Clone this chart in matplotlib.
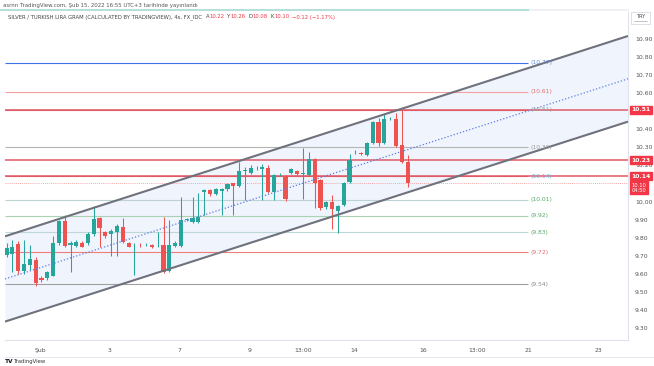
import matplotlib
matplotlib.use("Agg")
import matplotlib.pyplot as plt
from matplotlib.lines import Line2D
from matplotlib.patches import Rectangle
import numpy as np

# ---------------- data ----------------
trading_days = ["01-31", "02-01", "02-02", "02-03", "02-04", "02-07", "02-08", "02-09",
                "02-10", "02-11", "02-14", "02-15", "02-16", "02-17", "02-18", "02-21",
                "02-22", "02-23", "02-24"]
bar_hours = [1, 5, 9, 13, 17, 21]

opens = [9.703, 9.709, 9.764, 9.614, 9.648, 9.676, 9.578, 9.574, 9.589, 9.770,
         9.894, 9.758, 9.755, 9.770, 9.768, 9.818, 9.907, 9.829, 9.818, 9.829,
         9.857, 9.770, 9.757, 9.761, 9.762, 9.759, 9.752, 9.759, 9.614, 9.755,
         9.755, 9.899, 9.888, 9.888, 10.054, 10.063, 10.040, 10.060, 10.068, 10.101,
         10.088, 10.172, 10.160, 10.184, 10.179, 10.188, 10.054, 10.150, 10.138, 10.160,
         10.170, 10.152, 10.147, 10.236, 10.119, 9.968, 9.996, 9.949, 9.981, 10.110,
         10.272, 10.270, 10.258, 10.323, 10.440, 10.327, 10.456, 10.458, 10.314, 10.22]
highs = [9.770, 9.787, 9.780, 9.787, 9.760, 9.690, 9.585, 9.615, 9.810, 9.900,
         9.925, 9.780, 9.785, 9.780, 9.830, 9.975, 9.915, 9.835, 9.845, 9.875,
         9.907, 9.775, 9.770, 9.770, 9.770, 9.765, 9.830, 9.916, 9.897, 9.780,
         10.027, 9.910, 10.027, 10.045, 10.070, 10.070, 10.075, 10.075, 10.105, 10.105,
         10.221, 10.190, 10.200, 10.195, 10.208, 10.200, 10.155, 10.160, 10.145, 10.185,
         10.175, 10.295, 10.276, 10.240, 10.125, 10.005, 10.036, 9.980, 10.110, 10.264,
         10.285, 10.275, 10.330, 10.445, 10.462, 10.484, 10.470, 10.491, 10.508, 10.26]
lows = [9.690, 9.610, 9.600, 9.600, 9.620, 9.530, 9.555, 9.565, 9.585, 9.760,
        9.745, 9.610, 9.745, 9.745, 9.760, 9.810, 9.750, 9.800, 9.700, 9.700,
        9.770, 9.745, 9.590, 9.750, 9.755, 9.740, 9.745, 9.605, 9.610, 9.750,
        9.750, 9.890, 9.880, 9.880, 9.925, 10.030, 10.035, 9.925, 10.060, 9.925,
        10.080, 10.008, 10.150, 10.175, 10.008, 10.045, 10.008, 10.140, 10.005, 10.155,
        10.148, 10.013, 10.140, 9.962, 9.955, 9.960, 9.848, 9.824, 9.975, 10.100,
        10.262, 10.260, 10.250, 10.318, 10.310, 10.320, 10.450, 10.305, 10.215, 10.08]
closes = [9.742, 9.750, 9.614, 9.653, 9.681, 9.548, 9.565, 9.607, 9.770, 9.890,
          9.751, 9.770, 9.774, 9.750, 9.820, 9.901, 9.855, 9.809, 9.836, 9.866,
          9.774, 9.750, 9.761, 9.759, 9.765, 9.746, 9.755, 9.611, 9.759, 9.772,
          9.897, 9.903, 9.907, 9.912, 10.063, 10.039, 10.068, 10.068, 10.097, 10.086,
          10.169, 10.177, 10.188, 10.187, 10.192, 10.054, 10.147, 10.154, 10.013, 10.179,
          10.153, 10.155, 10.236, 10.101, 9.966, 9.999, 9.959, 9.975, 10.104, 10.230,
          10.276, 10.266, 10.323, 10.440, 10.327, 10.458, 10.460, 10.310, 10.221, 10.10]

# horizontal drawn levels (short, with bracket labels)
level_values = [10.77, 10.61, 10.51, 10.30, 10.14, 10.01, 9.92, 9.83, 9.72, 9.54]
level_labels = ["(10.77)", "(10.61)", "(10.51)", "(10.30)", "(10.14)", "(10.01)",
                "(9.92)", "(9.83)", "(9.72)", "(9.54)"]
# full-width red lines with axis price tags
red_levels = [10.51, 10.23, 10.14]
last_price = 10.10
countdown = "04:50"

# parallel channel anchors (days, price)
channel_x = [-1.004, 16.86]
channel_upper = [9.807, 10.918]
channel_lower = [9.334, 10.443]

y_ticks = [9.30, 9.40, 9.50, 9.60, 9.70, 9.80, 9.90, 10.00, 10.20, 10.30,
           10.40, 10.60, 10.70, 10.80, 10.90]

x_tick_labels = ["Şub", "3", "7", "9", "13:00", "14", "16", "13:00", "21", "23"]
x_tick_days = ["02-01", "02-03", "02-07", "02-09", "02-10", "02-14", "02-16", "02-17", "02-21", "02-23"]
x_tick_hours = [0, 0, 0, 0, 13, 0, 0, 13, 0, 0]

header = "asrnn TradingView.com, Şub 15, 2022 16:55 UTC+3 tarihinde yayınlandı"
title = "SILVER / TURKISH LIRA GRAM (CALCULATED BY TRADINGVIEW), 4s, FX_IDC"
ohlc_letters = ["A", "Y", "D", "K"]
ohlc_values = ["10.22", "10.26", "10.08", "10.10"]
change_text = "\u22120.12 (\u22121.17%)"

# ---------------- styles ----------------
UP = "#26a69a"
DOWN = "#ef5350"
TAG = "#f23645"
level_line_colors = ["#3f72e6", "#f2a0a0", "#e05a66", "#b5b5b5", "#e05a66", "#bdd3d3",
                     "#a9d2b4", "#bdd6d6", "#f07c7c", "#a0a0a0"]
level_text_colors = ["#5f86dc", "#e66a6a", "#8fa3a3", "#9a9a9a", "#7fb0e3", "#57a868",
                     "#57a868", "#57a868", "#e66a6a", "#8a8a8a"]

day_index = {d: i - 1 for i, d in enumerate(trading_days)}

# bar x positions: trading day index + hour/24
bar_x = []
for i in range(len(closes)):
    day = trading_days[i // len(bar_hours)]
    bar_x.append(day_index[day] + bar_hours[i % len(bar_hours)] / 24.0)
bar_x = np.array(bar_x)
o = np.array(opens); h = np.array(highs); l = np.array(lows); c = np.array(closes)

W, H = 654, 366
fig = plt.figure(figsize=(W / 100, H / 100), dpi=100)
fig.patch.set_facecolor("white")
plt.rcParams["font.family"] = ["DejaVu Sans"]

ax = fig.add_axes([5 / W, 26 / H, 623 / W, 328 / H])
ax.set_facecolor("white")
x_left, x_right = -1.004, 16.86
ax.set_xlim(x_left, x_right)
ax.set_ylim(9.232, 11.051)

# channel
ax.fill_between(channel_x, channel_lower, channel_upper, color="#f0f4fd", zorder=0.5, lw=0)
ax.plot(channel_x, channel_upper, color="#6f727d", lw=1.5, zorder=5, solid_capstyle="butt")
ax.plot(channel_x, channel_lower, color="#6f727d", lw=1.5, zorder=5, solid_capstyle="butt")
mid = [(a + b) / 2 for a, b in zip(channel_upper, channel_lower)]
ax.plot(channel_x, mid, color="#5b7ee5", lw=0.9, ls=(0, (1, 1.6)), zorder=5)

# short levels
label_x = day_index["02-21"] + 0.05
for v, lab, lc, tc in zip(level_values, level_labels, level_line_colors, level_text_colors):
    ax.hlines(v, x_left, day_index["02-21"], color=lc, lw=0.8, zorder=1)
    ax.text(label_x, v, lab, fontsize=4.3, color=tc, va="center", ha="left", zorder=6)

# full-width red levels
for v in red_levels:
    ax.axhline(v, color="#e05a66", lw=1.1, zorder=1.5)
ax.axhline(last_price, color="#f08a8a", lw=0.6, ls=(0, (1, 1.5)), zorder=1.5)

# candles
colors = np.where(c >= o, UP, DOWN)
ax.vlines(bar_x, l, h, colors=colors, lw=0.75, zorder=3)
body = c - o
body = np.where(np.abs(body) < 0.004, np.where(body >= 0, 0.004, -0.004), body)
ax.bar(bar_x, body, bottom=o, width=0.12, color=colors, lw=0, zorder=3.5)

# axes styling
for s in ["top", "left"]:
    ax.spines[s].set_visible(False)
for s in ["right", "bottom"]:
    ax.spines[s].set_color("#e0e3eb")
    ax.spines[s].set_linewidth(0.8)
ax.yaxis.tick_right()
ax.set_yticks(y_ticks)
ax.set_yticklabels([f"{t:.2f}" for t in y_ticks])
ax.tick_params(axis="y", length=0, pad=5, labelsize=4.4, colors="#555555")
xt = [day_index[d] + hh / 24.0 for d, hh in zip(x_tick_days, x_tick_hours)]
ax.set_xticks(xt)
ax.set_xticklabels(x_tick_labels)
ax.tick_params(axis="x", length=0, pad=6, labelsize=4.4, colors="#555555")

# price tags on right axis
for v in red_levels:
    ax.annotate(f"{v:.2f}", xy=(1.0, v), xycoords=("axes fraction", "data"),
                xytext=(2.5, 0), textcoords="offset points", fontsize=4.3, color="white",
                va="center", ha="left", fontweight="bold", zorder=10, annotation_clip=False,
                bbox=dict(boxstyle="square,pad=0.25", fc=TAG, ec=TAG))
ax.annotate(f"{last_price:.2f}\n{countdown}", xy=(1.0, last_price), xycoords=("axes fraction", "data"),
            xytext=(2.5, -3.2), textcoords="offset points", fontsize=3.7, color="white",
            va="center", ha="left", linespacing=1.0, zorder=11, annotation_clip=False,
            bbox=dict(boxstyle="square,pad=0.3", fc=TAG, ec=TAG))

# header
fig.text(3 / W, 1 - 5 / H, header, fontsize=3.9, color="#555555", va="center", ha="left")
fig.add_artist(Line2D([0, 530 / W], [1 - 10 / H] * 2, color="#b2dfdb", lw=1.4))
fig.add_artist(Line2D([530 / W, 628 / W], [1 - 10 / H] * 2, color="#eef0f3", lw=1.4))

# title with coloured ohlc
fig.canvas.draw()
renderer = fig.canvas.get_renderer()
xpos = 8
def put(txt, color, gap=0.0):
    global xpos
    t = fig.text(xpos / W, 1 - 17 / H, txt, fontsize=3.75, color=color, va="center", ha="left")
    bb = t.get_window_extent(renderer=renderer)
    xpos += bb.width + gap
put(title, "#444444", 3.5)
for let, val in zip(ohlc_letters, ohlc_values):
    put(let, "#444444", 0)
    put(val, "#f23645", 3)
put(change_text, "#f23645", 0)

# TRY box
fig.add_artist(Rectangle((631 / W, 1 - 24 / H), 19 / W, 12 / H, transform=fig.transFigure,
                         fc="white", ec="#d6d9e0", lw=0.6))
fig.text(640.5 / W, 1 - 16.5 / H, "TRY", fontsize=3.6, color="#444444", ha="center", va="center")
fig.add_artist(Line2D([634 / W, 647 / W], [1 - 21 / H] * 2, color="#9a9a9a", lw=0.4))

# bottom axis separator and logo
fig.add_artist(Line2D([5 / W, 654 / W], [1 - 357 / H] * 2, color="#e0e3eb", lw=0.6))
fig.text(5 / W, 1 - 361.5 / H, "TV", fontsize=4.2, fontweight="bold", color="#131722", va="center")
fig.text(14 / W, 1 - 361.5 / H, "TradingView", fontsize=3.8, color="#333333", va="center")

fig.savefig("out.png", dpi=100, facecolor="white")
